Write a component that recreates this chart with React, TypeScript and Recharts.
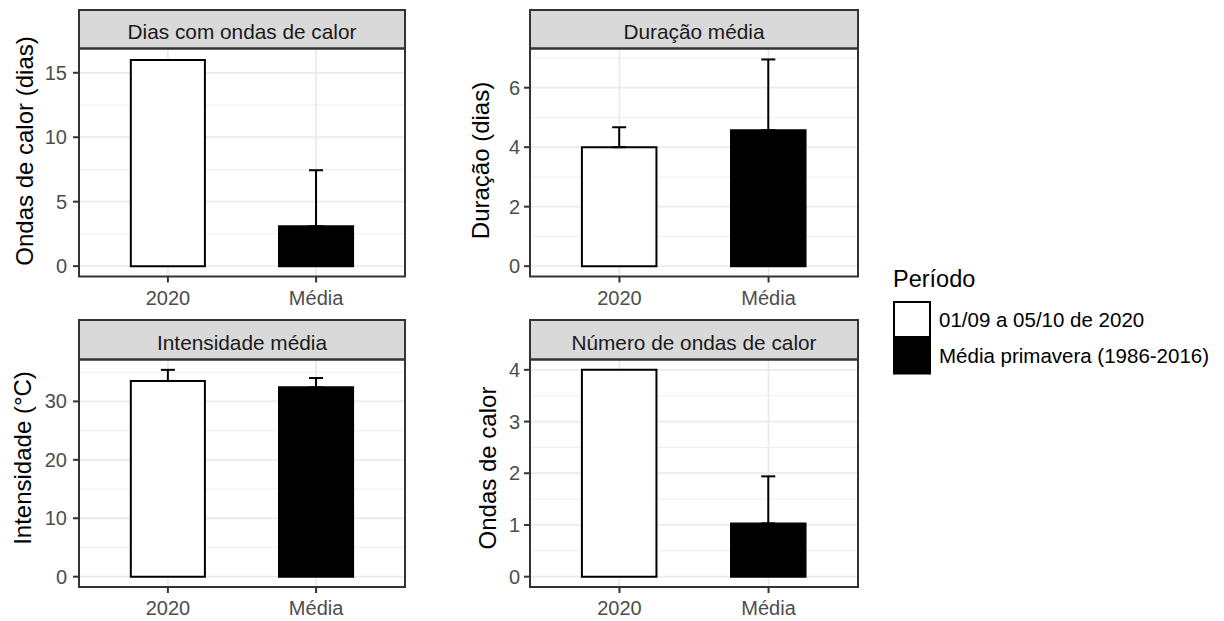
import React from 'react';
import { BarChart, Bar, XAxis, YAxis, CartesianGrid, ErrorBar, Cell } from 'recharts';

const FONT = '"Liberation Sans", Arial, Helvetica, sans-serif';

// ---------- data ----------
const categories = ['2020', 'Média'];
const barFills = ['#FFFFFF', '#000000'];

const diasValues = [16, 3.1];
const diasSd = [null, 4.34];
const duracaoValues = [4.0, 4.57];
const duracaoSd = [0.67, 2.38];
const intensidadeValues = [33.5, 32.4];
const intensidadeSd = [1.9, 1.6];
const numeroValues = [4, 1.03];
const numeroSd = [null, 0.91];

const panelTitles = ['Dias com ondas de calor', 'Duração média', 'Intensidade média', 'Número de ondas de calor'];
const yTitles = ['Ondas de calor (dias)', 'Duração (dias)', 'Intensidade (°C)', 'Ondas de calor'];

const diasTicks = [0, 5, 10, 15];
const diasMinor = [2.5, 7.5, 12.5];
const duracaoTicks = [0, 2, 4, 6];
const duracaoMinor = [1, 3, 5, 7];
const intensidadeTicks = [0, 10, 20, 30];
const intensidadeMinor = [5, 15, 25, 35];
const numeroTicks = [0, 1, 2, 3, 4];
const numeroMinor = [0.5, 1.5, 2.5, 3.5];

const diasDomain = [-0.804, 16.884];
const duracaoDomain = [-0.3485, 7.3185];
const intensidadeDomain = [-1.77, 37.17];
const numeroDomain = [-0.2, 4.2];

const legendTitle = 'Período';
const legendLabels = ['01/09 a 05/10 de 2020', 'Média primavera (1986-2016)'];

// ---------- layout ----------
const COLS = [
  { L: 79, W: 326 },
  { L: 530, W: 328 },
];
const ROWS = [
  { S: 10, T: 48.5, H: 228 },
  { S: 320, T: 359.5, H: 227.5 },
];

const panels = [
  { col: 0, row: 0, title: panelTitles[0], yTitle: yTitles[0], values: diasValues, sd: diasSd, ticks: diasTicks, minor: diasMinor, domain: diasDomain, tickMargin: 6, titleX: 33, titleY: 151 },
  { col: 1, row: 0, title: panelTitles[1], yTitle: yTitles[1], values: duracaoValues, sd: duracaoSd, ticks: duracaoTicks, minor: duracaoMinor, domain: duracaoDomain, tickMargin: 4, titleX: 489, titleY: 160.5 },
  { col: 0, row: 1, title: panelTitles[2], yTitle: yTitles[2], values: intensidadeValues, sd: intensidadeSd, ticks: intensidadeTicks, minor: intensidadeMinor, domain: intensidadeDomain, tickMargin: 6, titleX: 31, titleY: 458 },
  { col: 1, row: 1, title: panelTitles[3], yTitle: yTitles[3], values: numeroValues, sd: numeroSd, ticks: numeroTicks, minor: numeroMinor, domain: numeroDomain, tickMargin: 4, titleX: 496, titleY: 468 },
];

const TOTAL_W = 1224;
const TOTAL_H = 621;
const YW = 60;
const XH = 40;

function Panel({ p }: { p: any }) {
  const col = COLS[p.col];
  const row = ROWS[p.row];
  const data = categories.map((c, i) => ({
    cat: c,
    value: p.values[i],
    err: p.sd[i] == null ? null : [0, p.sd[i]],
  }));
  const pad = col.W / 22;
  const barSize = (col.W * 0.5) / 2.2;
  const tickStyle = { fontSize: 20, fill: '#4D4D4D', fontFamily: FONT };
  const renderTitle = () => (
    <text
      x={p.titleX}
      y={p.titleY}
      transform={`rotate(-90, ${p.titleX}, ${p.titleY})`}
      textAnchor="middle"
      fontSize={24}
      fill="#000000"
      fontFamily={FONT}
    >
      {p.yTitle}
    </text>
  );
  return (
    <div style={{ position: 'absolute', left: 0, top: 0 }}>
      <BarChart
        width={TOTAL_W}
        height={TOTAL_H}
        data={data}
        margin={{
          top: row.T,
          left: col.L - YW,
          right: TOTAL_W - col.L - col.W,
          bottom: TOTAL_H - row.T - row.H - XH,
        }}
      >
        <CartesianGrid vertical={false} horizontalValues={p.minor} stroke="#EDEDED" strokeWidth={1} />
        <CartesianGrid horizontalValues={p.ticks} stroke="#EBEBEB" strokeWidth={1.8} />
        <XAxis
          dataKey="cat"
          type="category"
          height={XH}
          padding={{ left: pad, right: pad }}
          axisLine={false}
          tickLine={{ stroke: '#333333', strokeWidth: 2 }}
          tickSize={6}
          tickMargin={8}
          tick={tickStyle}
          interval={0}
        />
        <YAxis
          type="number"
          width={YW}
          domain={p.domain}
          ticks={p.ticks}
          allowDataOverflow
          axisLine={false}
          tickLine={{ stroke: '#333333', strokeWidth: 2 }}
          tickSize={6}
          tickMargin={p.tickMargin}
          tick={tickStyle}
          interval={0}
          label={renderTitle}
        />
        <Bar dataKey="value" barSize={barSize} stroke="#000000" strokeWidth={2} isAnimationActive={false}>
          {data.map((d, i) => (
            <Cell key={d.cat} fill={barFills[i]} />
          ))}
          <ErrorBar dataKey="err" width={7} stroke="#000000" strokeWidth={2} direction="y" isAnimationActive={false} />
        </Bar>
      </BarChart>
    </div>
  );
}

function Overlay() {
  return (
    <svg
      width={TOTAL_W}
      height={TOTAL_H}
      style={{ position: 'absolute', left: 0, top: 0, pointerEvents: 'none' }}
    >
      {panels.map((p, i) => {
        const col = COLS[p.col];
        const row = ROWS[p.row];
        const capCenter = (row.S + row.T) / 2 + 2.5;
        return (
          <g key={i}>
            <rect x={col.L} y={row.S} width={col.W} height={row.T - row.S} fill="#D9D9D9" stroke="#333333" strokeWidth={2} />
            <text
              x={col.L + col.W / 2}
              y={capCenter + 7.4}
              textAnchor="middle"
              fontSize={20.8}
              fill="#1A1A1A"
              fontFamily={FONT}
            >
              {p.title}
            </text>
            <rect x={col.L} y={row.T} width={col.W} height={row.H} fill="none" stroke="#333333" strokeWidth={2} />
          </g>
        );
      })}
      <text x={893} y={286.6} fontSize={23.5} fill="#000000" fontFamily={FONT}>
        {legendTitle}
      </text>
      {legendLabels.map((lab, i) => (
        <g key={lab}>
          <rect x={894} y={302 + i * 36.5} width={36} height={35} fill={barFills[i]} stroke="#000000" strokeWidth={2} />
          <text x={939} y={319.5 + i * 36.5 + 7.3} fontSize={20.5} fill="#000000" fontFamily={FONT}>
            {lab}
          </text>
        </g>
      ))}
    </svg>
  );
}

export default function App() {
  return (
    <div
      style={{
        position: 'absolute',
        left: 0,
        top: 0,
        width: TOTAL_W,
        height: TOTAL_H,
        background: '#FFFFFF',
        overflow: 'hidden',
        fontFamily: FONT,
      }}
    >
      {panels.map((p, i) => (
        <Panel key={i} p={p} />
      ))}
      <Overlay />
    </div>
  );
}
